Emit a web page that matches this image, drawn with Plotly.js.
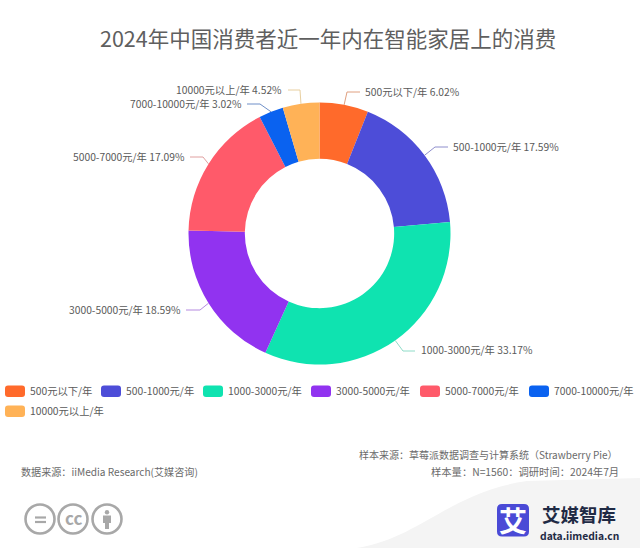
<!DOCTYPE html>
<html><head><meta charset="utf-8">
<script src="https://cdn.plot.ly/plotly-3.0.1.min.js"></script>
<style>html,body{margin:0;padding:0;background:#fff}#c{width:640px;height:548px}</style>
</head><body><div id="c"></div>
<script>
const categories = ['500元以下/年','500-1000元/年','1000-3000元/年','3000-5000元/年','5000-7000元/年','7000-10000元/年','10000元以上/年'];
const shares = [6.02,17.59,33.17,18.59,17.09,3.02,4.52];
const colors = ['#FF6A2B','#4D4DD8','#0FE3B0','#9133F0','#FF5A6A','#0A62F0','#FFB257'];
const lineColors = ['#E0A080','#8E8ECC','#8FDCC8','#B58AE0','#E0A0A0','#6E8FC8','#E8CFA0'];
const chartTitle = '2024年中国消费者近一年内在智能家居上的消费';
const sourceLines = [
  '样本来源\uFF1A草莓派数据调查与计算系统\uFF08Strawberry Pie\uFF09',
  '样本量\uFF1AN=1560\uFF1A调研时间\uFF1A2024年7月',
  '数据来源\uFF1AiiMedia Research(艾媒咨询)'
];

const W = 640, H = 548, CX = 319.5, CY = 233.5, R = 131, HOLE = 0.57;
const FONT = '"Noto Sans CJK SC","Noto Sans",sans-serif';
const TXT = '#5a5a5a';
const px = x => x / W, py = y => 1 - y / H;

// label placement: text anchor x / y, side, elbow and end of each leader
const labelPlace = [
  {x:363.5, y:91.5,  a:'left',  ex:347, ey:92,  tx:360},
  {x:451.5, y:146.5, a:'left',  ex:435, ey:147, tx:448},
  {x:419.5, y:349.5, a:'left',  ex:403, ey:351, tx:415},
  {x:181.5, y:309, a:'right', ex:200, ey:310, tx:186},
  {x:185.5, y:156, a:'right', ex:203, ey:157, tx:190},
  {x:242.5, y:103.5, a:'right', ex:260, ey:104, tx:247},
  {x:282.5, y:89.5,  a:'right', ex:300, ey:90,  tx:288}
];
const legendPlace = [
  {x:5,y:391},{x:101,y:391},{x:203,y:391},{x:311,y:391},{x:420,y:391},{x:529,y:391},{x:5,y:411}
];

const annotations = [], shapes = [];
const addText = (text,x,y,anchor,size,color,weight) => annotations.push({
  text, x:px(x), y:py(y), xref:'paper', yref:'paper', xanchor:anchor, yanchor:'middle', align:anchor,
  showarrow:false, borderpad:0,
  font:{family:FONT,size,color,weight:weight||400}
});

// background swoosh
shapes.push({type:'path',xref:'paper',yref:'paper',layer:'below',line:{width:0},fillcolor:'#f4f4f4',
  path:`M ${px(357)} ${py(548)} C ${px(420)} ${py(538)} ${px(450)} ${py(492)} ${px(527)} ${py(481)} L ${px(640)} ${py(478)} L ${px(640)} ${py(548)} Z`});

// leaders, starting on the slice mid-angle
let cum = 0;
const total = shares.reduce((a,b)=>a+b,0);
shares.forEach((v,i)=>{
  const mid = (cum + v/2)/total*2*Math.PI; cum += v;
  const sx = CX + R*Math.sin(mid), sy = CY - R*Math.cos(mid);
  const p = labelPlace[i];
  shapes.push({type:'path',xref:'paper',yref:'paper',line:{color:lineColors[i],width:1},
    path:`M ${px(sx)} ${py(sy)} L ${px(p.ex)} ${py(p.ey)} L ${px(p.tx)} ${py(p.ey)}`});
  addText(`${categories[i]} ${v.toFixed(2)}%`,p.x,p.y,p.a,10.3,TXT);
});

// legend
const roundRect = (x,y,w,h,r) => `M ${px(x+r)} ${py(y)} L ${px(x+w-r)} ${py(y)} Q ${px(x+w)} ${py(y)} ${px(x+w)} ${py(y+r)} L ${px(x+w)} ${py(y+h-r)} Q ${px(x+w)} ${py(y+h)} ${px(x+w-r)} ${py(y+h)} L ${px(x+r)} ${py(y+h)} Q ${px(x)} ${py(y+h)} ${px(x)} ${py(y+h-r)} L ${px(x)} ${py(y+r)} Q ${px(x)} ${py(y)} ${px(x+r)} ${py(y)} Z`;
categories.forEach((c,i)=>{
  const p = legendPlace[i];
  shapes.push({type:'path',xref:'paper',yref:'paper',line:{width:0},fillcolor:colors[i],path:roundRect(p.x,p.y-5.5,20,11.5,3)});
  addText(c,p.x+23.5,p.y-0.5,'left',10.3,TXT);
});

addText(chartTitle,328,38,'center',21.5,'#5f5f5f');
addText(sourceLines[0],619,454,'right',10,'#6a6a6a');
addText(sourceLines[1],620,471.5,'right',10.3,'#6a6a6a');
addText(sourceLines[2],20,471,'left',10.1,'#6a6a6a');

// licence badges
const gray = '#a8a8a8';
[40,73,107].forEach(x=>shapes.push({type:'circle',xref:'paper',yref:'paper',line:{color:gray,width:2.6},
  x0:px(x-14.5),x1:px(x+14.5),y0:py(519+14.5),y1:py(519-14.5)}));
[517.5,522].forEach(y=>shapes.push({type:'line',xref:'paper',yref:'paper',line:{color:gray,width:2.2},
  x0:px(35),x1:px(46),y0:py(y),y1:py(y)}));
addText('cc',73.5,517,'center',17,gray,700);
shapes.push({type:'circle',xref:'paper',yref:'paper',fillcolor:gray,line:{width:0},
  x0:px(104.8),x1:px(109.2),y0:py(514.5),y1:py(510)});
shapes.push({type:'rect',xref:'paper',yref:'paper',fillcolor:gray,line:{width:0},
  x0:px(103),x1:px(111),y0:py(523),y1:py(515.5)});
shapes.push({type:'rect',xref:'paper',yref:'paper',fillcolor:gray,line:{width:0},
  x0:px(105),x1:px(109),y0:py(529),y1:py(523)});

// logo
shapes.push({type:'path',xref:'paper',yref:'paper',line:{width:0},fillcolor:'#4A4AD6',path:roundRect(497,504,32,32.5,5)});
addText('艾',513,519.5,'center',28,'#ffffff',700);
addText('艾媒智库',541,513.5,'left',18.5,'#1f2a44',700);
addText('data.iimedia.cn',539,535,'left',10.3,'#1f2a44',700);

const data = [{
  type:'pie', labels:categories, values:shares, sort:false, direction:'clockwise', rotation:0,
  hole:HOLE, textinfo:'none', hoverinfo:'label+percent',
  marker:{colors:colors,line:{width:0}},
  domain:{x:[px(CX-R),px(CX+R)],y:[py(CY+R),py(CY-R)]},
  showlegend:false
}];
const layout = {width:W,height:H,margin:{l:0,r:0,t:0,b:0},paper_bgcolor:'#fff',plot_bgcolor:'#fff',
  showlegend:false,annotations,shapes,font:{family:FONT}};
Plotly.newPlot('c',data,layout,{displayModeBar:false,staticPlot:true});
</script></body></html>
